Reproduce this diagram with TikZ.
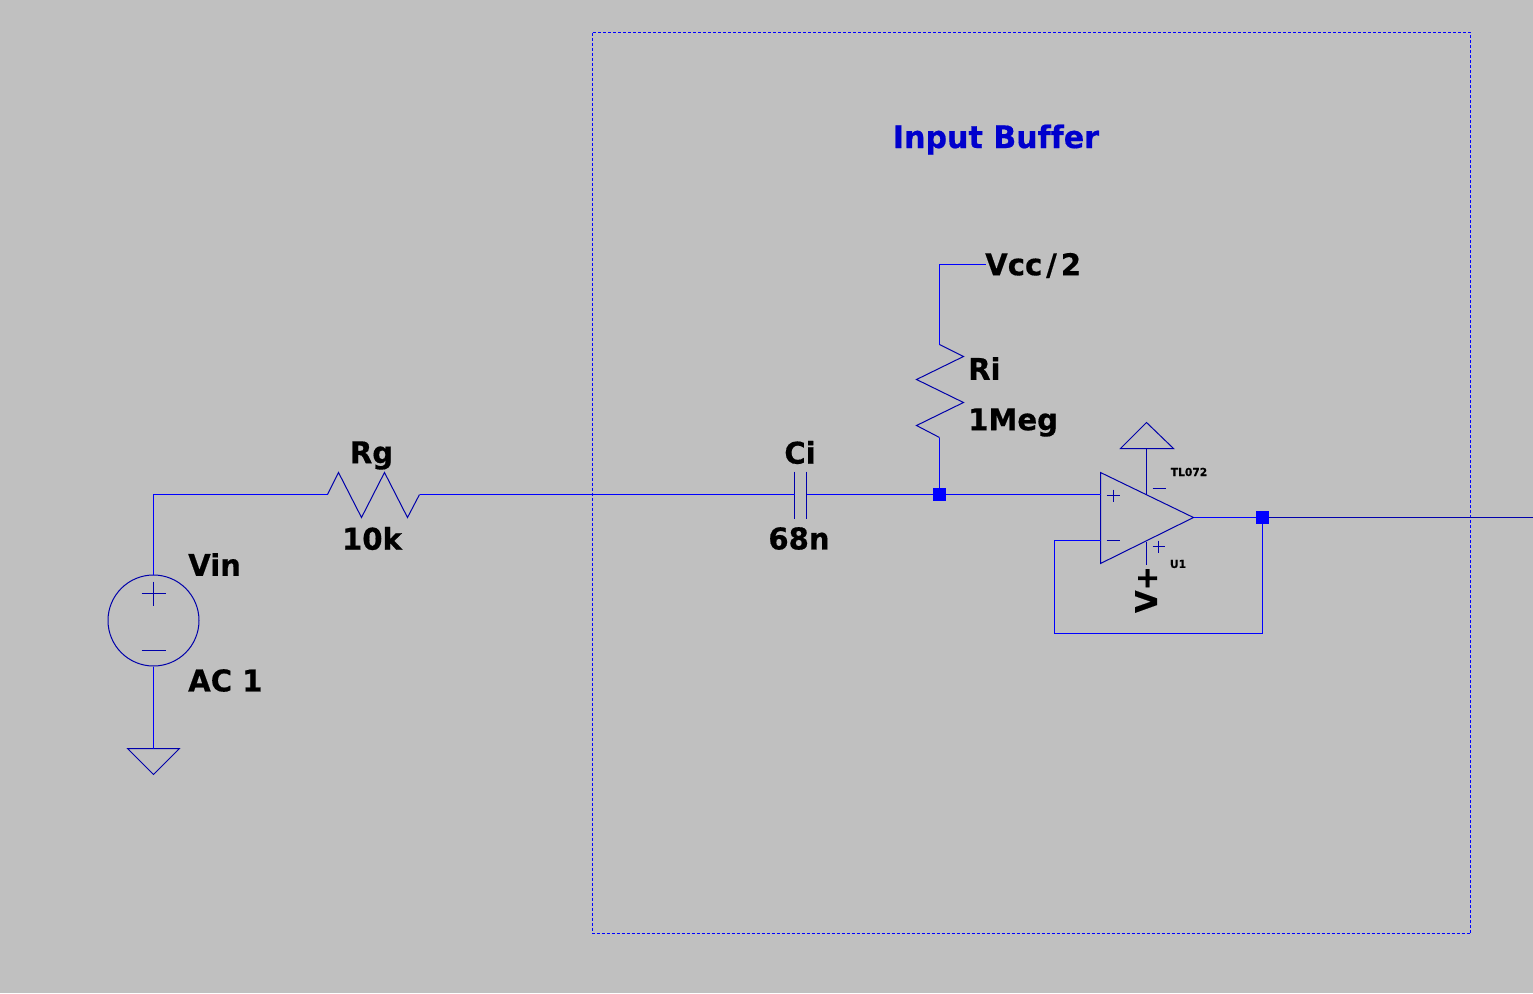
\documentclass[tikz,border=0pt]{standalone}
\usepackage{fontspec}
\setmainfont{DejaVu Sans}[FakeStretch=0.97, BoldFeatures={FakeBold=0.5}]
\definecolor{sheetGray}{RGB}{192,192,192}
\definecolor{wireBlue}{RGB}{0,0,255}
\definecolor{symbolBlue}{RGB}{0,0,170}
\definecolor{titleBlue}{RGB}{0,0,205}
\tikzset{
    wire/.style={wireBlue, line width=1pt},
    symbol/.style={symbolBlue, line width=1pt, line join=miter},
    junction/.style={fill=wireBlue, rectangle, inner sep=0pt, minimum size=13pt},
    partlabel/.style={font=\bfseries\fontsize{30}{30}\selectfont, text=black, inner sep=0pt},
    tinylabel/.style={font=\bfseries\fontsize{11}{11}\selectfont, text=black, inner sep=0pt}
}
\begin{document}
\begin{tikzpicture}[x=1pt, y=-1pt]

    % Sheet
    \fill[sheetGray] (0,0) rectangle (1533,993);
    \useasboundingbox (0,0) rectangle (1533,993);

    \begin{scope}[shift={(0.5,0.5)}]

    % Frame and title
    \draw[wireBlue, line width=1pt, dash pattern=on 3pt off 2pt] (592,32) rectangle (1470,933);
    \node[font=\bfseries\fontsize{31}{31}\selectfont, text=titleBlue, inner sep=0pt] (title) at (995.5,139) {Input Buf\kern0pt fer};

    %%%% Source
    \node[draw=symbolBlue, line width=1pt, circle, minimum size=91pt, inner sep=0pt] (vin) at (153,620) {};
    \draw[symbol] (141,593) -- (165,593) (153,581) -- (153,605);
    \draw[symbol] (141,650) -- (165,650);
    \node[partlabel, anchor=west] (vinname) at (187.5,564) {Vin};
    \node[partlabel, anchor=west] (vinvalue) at (187.5,680) {AC 1};

    % Ground
    \coordinate (gnd) at (153,748);
    \draw[symbol] (127,748) -- (179,748) -- (153,774) -- cycle;
    \draw[wire] (vin.south) -- (gnd);

    %%%% Rg
    \coordinate (rgleft) at (327,494);
    \coordinate (rgright) at (419,494);
    \coordinate (corner) at (153,494);
    \draw[symbol] (rgleft) -- (338,472) -- (361,517) -- (384,472) -- (407,517) -- (rgright);
    \node[partlabel] (rgname) at (371,455) {Rg};
    \node[partlabel] (rgvalue) at (371.5,538) {10k};
    \draw[wire] (vin.north) -- (corner) -- (rgleft);

    %%%% Ci
    \coordinate (cileft) at (794,494);
    \coordinate (ciright) at (806,494);
    \draw[symbol] (794,471) -- (794,518) (806,471) -- (806,518);
    \node[partlabel] (ciname) at (799.5,452) {Ci};
    \node[partlabel] (civalue) at (798.5,538) {68n};
    \draw[wire] (rgright) -- (cileft);

    %%%% Ri
    \node[junction] (node1) at (939,494) {};
    \coordinate (ritop) at (939,344);
    \coordinate (ribottom) at (939,437);
    \coordinate (vcctop) at (939,264);
    \coordinate (vccend) at (985,264);
    \draw[symbol] (ritop) -- (963,356) -- (916,379) -- (963,402) -- (916,425) -- (ribottom);
    \node[partlabel, anchor=west] (riname) at (967.5,368) {Ri};
    \node[partlabel, anchor=west] (rivalue) at (967.5,422) {1Meg};
    \node[partlabel, anchor=west] (vcc) at (984.5,265) {Vcc\kern4pt/\kern4pt2};
    \draw[wire] (vccend) -- (vcctop) -- (ritop);
    \draw[wire] (ribottom) -- (node1);
    \draw[wire] (ciright) -- (node1);

    %%%% Op amp
    \coordinate (inplus) at (1100,494);
    \coordinate (inminus) at (1100,540);
    \coordinate (opout) at (1193,517);
    \coordinate (supplyup) at (1146,448);
    \coordinate (supplyupin) at (1146,494);
    \coordinate (supplydown) at (1146,541);
    \coordinate (supplydownend) at (1146,564);
    \draw[symbol] (1100,472) -- (opout) -- (1100,563) -- cycle;
    \draw[symbol] (1106,495) -- (1119,495) (1113,489) -- (1113,501);
    \draw[symbol] (1106,540) -- (1119,540);
    \draw[symbol] (1152,488) -- (1165,488);
    \draw[symbol] (1152,546) -- (1164,546) (1158,540) -- (1158,552);
    \draw[symbol] (1120,448) -- (1173,448) -- (1146,422) -- cycle;
    \draw[symbol] (supplyup) -- (supplyupin);
    \draw[symbol] (supplydown) -- (supplydownend);
    \node[tinylabel] (opmodel) at (1188.5,471.5) {TL072};
    \node[tinylabel] (opname) at (1177.5,563.5) {U1};
    \node[partlabel, rotate=90] (vplus) at (1145.5,589) {V+};
    \draw[wire] (node1) -- (inplus);

    %%%% Output and feedback
    \node[junction] (node2) at (1262,517) {};
    \coordinate (fbleft) at (1054,540);
    \coordinate (fbdown) at (1054,633);
    \coordinate (fbright) at (1262,633);
    \coordinate (outend) at (1533,517);
    \draw[wire] (opout) -- (node2);
    \draw[symbolBlue, line width=1pt] (node2) -- (outend);
    \draw[wire] (inminus) -- (fbleft) -- (fbdown) -- (fbright) -- (node2);

    \end{scope}

\end{tikzpicture}
\end{document}
